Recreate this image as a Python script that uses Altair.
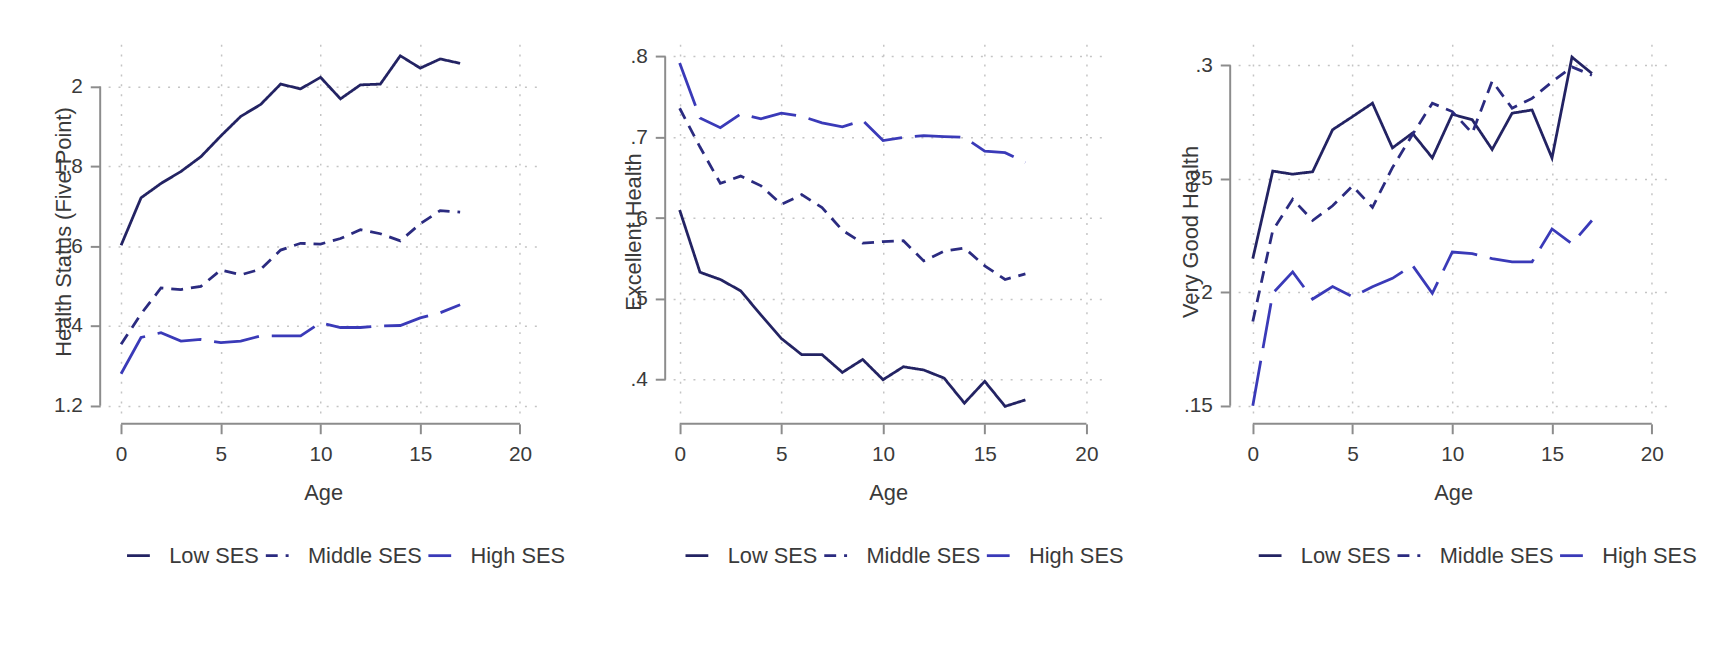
import altair as alt
import pandas as pd

ages = list(range(18))
ses_levels = ["Low SES", "Middle SES", "High SES"]
ses_colors = ["#232363", "#2b2b80", "#3a3ab8"]
ses_dashes = [[1, 0], [12, 8], [46, 13]]
x_ticks = [0, 5, 10, 15, 20]

# Panel 1: Health Status (Five-Point)
p1_low = [1.602, 1.721, 1.757, 1.787, 1.824, 1.876, 1.925, 1.955, 2.006, 1.994,
          2.023, 1.969, 2.004, 2.006, 2.077, 2.046, 2.069, 2.058]
p1_mid = [1.354, 1.430, 1.495, 1.491, 1.499, 1.540, 1.528, 1.542, 1.590, 1.607,
          1.605, 1.619, 1.641, 1.631, 1.613, 1.656, 1.689, 1.685]
p1_high = [1.280, 1.371, 1.383, 1.362, 1.366, 1.358, 1.362, 1.375, 1.375, 1.375,
           1.408, 1.396, 1.396, 1.400, 1.401, 1.420, 1.433, 1.453]
p1_yticks = [1.2, 1.4, 1.6, 1.8, 2.0]

# Panel 2: Excellent Health
p2_low = [0.610, 0.533, 0.524, 0.510, 0.480, 0.451, 0.431, 0.431, 0.409, 0.425,
          0.400, 0.416, 0.412, 0.402, 0.371, 0.398, 0.367, 0.375]
p2_mid = [0.736, 0.688, 0.643, 0.652, 0.640, 0.617, 0.629, 0.613, 0.585, 0.569,
          0.571, 0.572, 0.547, 0.559, 0.563, 0.541, 0.524, 0.531]
p2_high = [0.792, 0.724, 0.712, 0.729, 0.723, 0.730, 0.726, 0.718, 0.713, 0.721,
           0.696, 0.700, 0.702, 0.701, 0.700, 0.683, 0.681, 0.669]
p2_yticks = [0.4, 0.5, 0.6, 0.7, 0.8]

# Panel 3: Very Good Health
p3_low = [0.2148, 0.2534, 0.2520, 0.2531, 0.2716, 0.2774, 0.2833, 0.2636, 0.2701, 0.2592,
          0.2784, 0.2760, 0.2629, 0.2789, 0.2803, 0.2592, 0.3036, 0.2964]
p3_mid = [0.1871, 0.2272, 0.2410, 0.2316, 0.2381, 0.2468, 0.2374, 0.2549, 0.2694, 0.2833,
          0.2796, 0.2701, 0.2930, 0.2811, 0.2854, 0.2927, 0.2993, 0.2956]
p3_high = [0.1500, 0.1995, 0.2090, 0.1970, 0.2025, 0.1980, 0.2024, 0.2061, 0.2119, 0.1995,
           0.2177, 0.2170, 0.2148, 0.2134, 0.2134, 0.2279, 0.2214, 0.2316]
p3_yticks = [0.15, 0.2, 0.25, 0.3]

FONT = "Liberation Sans"
AXIS_COLOR = "#8c8c8c"
TEXT_COLOR = "#3a3a3a"
GRID_COLOR = "#c4c4c4"
W, H = 434, 378
X_OFF, Y_OFF = 5, 8


def panel(low, mid, high, yticks, ydom, xdom, ytitle, title_x, legend_x):
    rows = []
    for name, vals in zip(ses_levels, [low, mid, high]):
        for a, v in zip(ages, vals):
            rows.append({"age": a, "value": v, "ses": name})
    df = pd.DataFrame(rows)

    legend = alt.Legend(
        orient="none", legendX=legend_x, legendY=503, direction="horizontal",
        columns=3, title=None, labelFontSize=22, labelColor=TEXT_COLOR, labelFont=FONT,
        symbolSize=529, symbolStrokeWidth=2.8, symbolType="stroke", labelOffset=18,
        columnPadding=0, padding=0, labelLimit=400,
    )

    x_axis = alt.Axis(
        values=x_ticks, offset=X_OFF, domain=False, tickSize=10,
        tickColor=AXIS_COLOR, tickWidth=2, labelFontSize=21,
        labelColor=TEXT_COLOR, labelPadding=10, labelFont=FONT,
        grid=True, gridDash=[2, 8], gridColor=GRID_COLOR, gridWidth=1.5,
        title="Age", titleFontSize=22, titleColor=TEXT_COLOR,
        titleFont=FONT, titleFontWeight="normal",
        titleBaseline="alphabetic", titleY=76,
    )
    y_axis = alt.Axis(
        values=yticks, offset=Y_OFF, domain=False, tickSize=10,
        tickColor=AXIS_COLOR, tickWidth=2, labelFontSize=21,
        labelColor=TEXT_COLOR, labelPadding=8, labelFont=FONT,
        labelExpr="replace(format(datum.value, '.2~f'), '0.', '.')",
        grid=True, gridDash=[2, 8], gridColor=GRID_COLOR, gridWidth=1.5,
        title=ytitle, titleFontSize=22, titleColor=TEXT_COLOR,
        titleFont=FONT, titleFontWeight="normal", titleAngle=270,
        titleAlign="center", titleBaseline="middle",
        titleX=title_x, titleY=H / 2,
    )

    lines = alt.Chart(df).mark_line(strokeWidth=2.8).encode(
        x=alt.X("age:Q", scale=alt.Scale(domain=xdom, nice=False, zero=False), axis=x_axis),
        y=alt.Y("value:Q", scale=alt.Scale(domain=ydom, nice=False, zero=False), axis=y_axis),
        color=alt.Color("ses:N", scale=alt.Scale(domain=ses_levels, range=ses_colors),
                        sort=ses_levels, legend=legend),
        strokeDash=alt.StrokeDash("ses:N", scale=alt.Scale(domain=ses_levels, range=ses_dashes),
                                  sort=ses_levels, legend=legend),
    )

    one = pd.DataFrame({"k": [0]})
    ydomain_line = alt.Chart(one).mark_rule(color=AXIS_COLOR, strokeWidth=2).encode(
        x=alt.value(-Y_OFF), y=alt.datum(min(yticks)), y2=alt.datum(max(yticks)))
    xdomain_line = alt.Chart(one).mark_rule(color=AXIS_COLOR, strokeWidth=2).encode(
        y=alt.value(H + X_OFF), x=alt.datum(min(x_ticks)), x2=alt.datum(max(x_ticks)))

    return alt.layer(lines, ydomain_line, xdomain_line).properties(width=W, height=H)


c1 = panel(p1_low, p1_mid, p1_high, p1_yticks, [1.167, 2.106], [-0.651, 20.92],
           "Health Status (Five-Point)", -36.5, 17.6)
c2 = panel(p2_low, p2_mid, p2_high, p2_yticks, [0.3515, 0.8153], [-0.322, 20.83],
           "Excellent Health", -32.4, 11)
c3 = panel(p3_low, p3_mid, p3_high, p3_yticks, [0.1442, 0.3093], [-0.736, 20.83],
           "Very Good Health", -40, 19.3)

chart = alt.hconcat(c1, c2, c3, spacing=136, bounds="flush").resolve_scale(
    color="independent", strokeDash="independent"
).resolve_legend(
    color="independent", strokeDash="independent"
).properties(
    padding={"left": 45, "top": 34, "right": 5, "bottom": 5}
).configure(
    font=FONT
).configure_view(stroke=None)

chart.save("out.html", embed_options={"renderer": "svg", "actions": False})
